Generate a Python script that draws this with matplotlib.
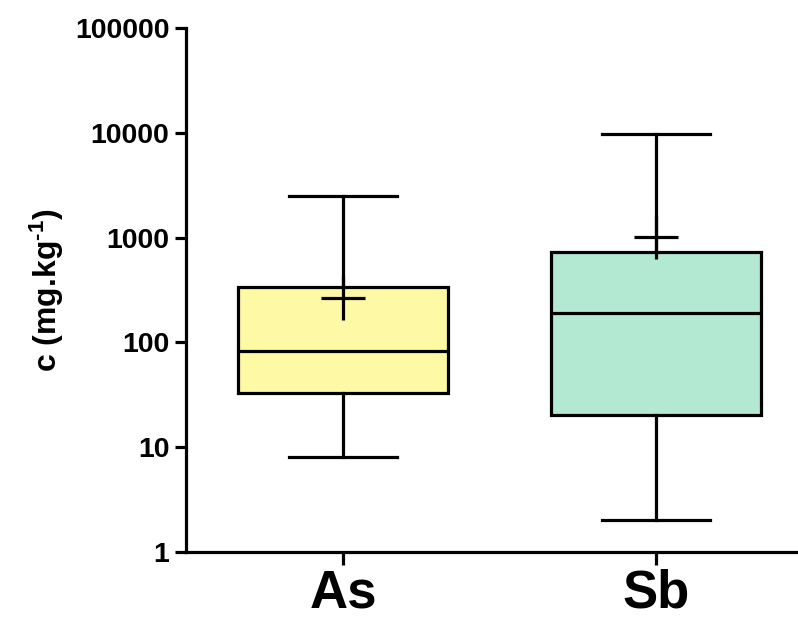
import matplotlib
matplotlib.use("Agg")
import matplotlib.pyplot as plt
from matplotlib.ticker import FixedLocator, FixedFormatter, NullLocator

categories = ["As", "Sb"]
whisker_low = [8.1, 2.0]
q1 = [33, 20.3]
median = [82, 190]
q3 = [340, 733]
whisker_high = [2500, 9700]
mean = [267, 1010]
fill_colors = ["#FEF9A4", "#B3E8D3"]

yticks = [1, 10, 100, 1000, 10000, 100000]
ytick_labels = ["1", "10", "100", "1000", "10000", "100000"]

plt.rcParams['font.family'] = ['Liberation Sans', 'DejaVu Sans']
plt.rcParams['font.weight'] = 'bold'
plt.rcParams['mathtext.fontset'] = 'custom'
plt.rcParams['mathtext.rm'] = 'Liberation Sans:bold'
plt.rcParams['mathtext.bf'] = 'Liberation Sans:bold'
plt.rcParams['mathtext.default'] = 'bf'

fig = plt.figure(figsize=(7.98, 6.22), dpi=100)
ax = fig.add_axes([186/798, 1-552/622, 1-186/798, (552-28)/622])

stats = []
for i, c in enumerate(categories):
    stats.append(dict(label=c, whislo=whisker_low[i], q1=q1[i], med=median[i],
                      q3=q3[i], whishi=whisker_high[i], mean=mean[i]))

lw = 2.3
bp = ax.bxp(stats, positions=[1, 2], widths=0.67, showmeans=True, showfliers=False,
            patch_artist=True, manage_ticks=False,
            boxprops=dict(linewidth=lw, edgecolor='black'),
            medianprops=dict(linewidth=lw, color='black'),
            whiskerprops=dict(linewidth=lw, color='black'),
            capprops=dict(linewidth=lw, color='black'),
            meanprops=dict(marker='+', markersize=32, markeredgewidth=lw,
                           markeredgecolor='black', color='black'))
for patch, col in zip(bp['boxes'], fill_colors):
    patch.set_facecolor(col)
for cap in bp['caps']:
    xd = cap.get_xdata()
    cx = (xd[0] + xd[1]) / 2
    cap.set_xdata([cx - 0.171, cx + 0.171])

ax.set_yscale('log')
ax.set_ylim(1, 100000)
ax.set_xlim(1 - 157/313, 2 + 142/313)
ax.yaxis.set_major_locator(FixedLocator(yticks))
ax.yaxis.set_major_formatter(FixedFormatter(ytick_labels))
ax.yaxis.set_minor_locator(NullLocator())
ax.set_xticks([1, 2])
ax.set_xticklabels(categories, fontsize=38, fontweight='bold')
for lab in ax.get_yticklabels():
    lab.set_fontsize(20.5)
    lab.set_fontweight('bold')

ax.tick_params(axis='y', length=8, width=lw, pad=4)
ax.tick_params(axis='x', length=9, width=lw, pad=3)
for s in ['top', 'right']:
    ax.spines[s].set_visible(False)
for s in ['left', 'bottom']:
    ax.spines[s].set_linewidth(lw)

ax.set_ylabel('c (mg.kg$^{\\text{-1}}$)', fontsize=23, fontweight='bold', labelpad=6)

fig.savefig("out.png", dpi=100, facecolor='white')
